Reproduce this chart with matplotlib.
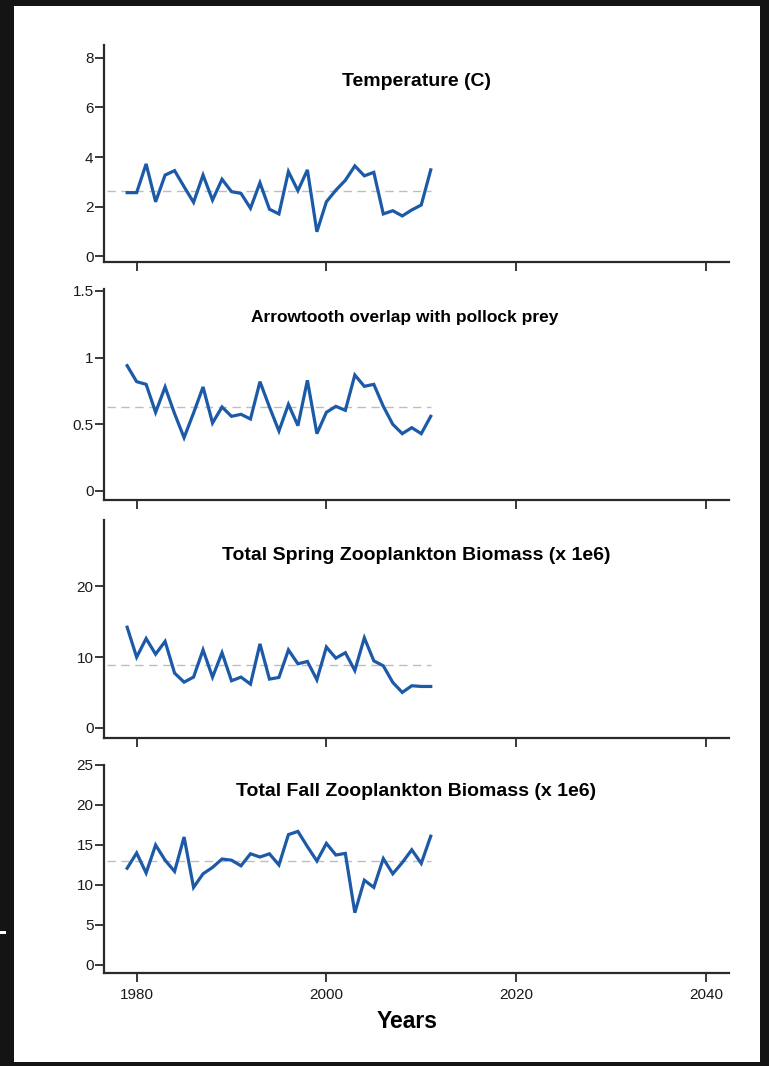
# ========================
# IMPORT LIBRARIES
# ========================
import numpy as np
import matplotlib
matplotlib.use("Agg")
import matplotlib.pyplot as plt
from matplotlib.patches import Rectangle


# ========================
# DATA
# ========================
years = np.arange(1979, 2012)

temperature = [2.56, 2.56, 3.72, 2.19, 3.27, 3.45, 2.80, 2.17, 3.27, 2.26,
               3.10, 2.60, 2.53, 1.93, 2.96, 1.89, 1.70, 3.41, 2.64, 3.48,
               0.98, 2.19, 2.66, 3.06, 3.64, 3.24, 3.38, 1.70, 1.83, 1.62,
               1.86, 2.06, 3.48]

overlap = [0.94, 0.82, 0.80, 0.59, 0.78, 0.58, 0.40, 0.585, 0.78, 0.51,
           0.63, 0.56, 0.575, 0.54, 0.82, 0.63, 0.45, 0.65, 0.49, 0.83,
           0.43, 0.59, 0.635, 0.605, 0.87, 0.785, 0.80, 0.635, 0.50, 0.43,
           0.475, 0.43, 0.56]

spring_zoop = [14.2, 9.98, 12.6, 10.4, 12.2, 7.73, 6.46, 7.17, 11.0, 7.17,
               10.6, 6.65, 7.17, 6.18, 11.85, 6.89, 7.12, 11.0, 9.04, 9.37,
               6.79, 11.4, 9.84, 10.6, 8.10, 12.7, 9.46, 8.76, 6.42, 5.01,
               5.95, 5.85, 5.85]

fall_zoop = [12.1, 14.0, 11.5, 15.0, 13.1, 11.7, 16.0, 9.7, 11.4, 12.2,
             13.25, 13.1, 12.4, 13.9, 13.5, 13.9, 12.5, 16.3, 16.7, 14.8,
             13.0, 15.2, 13.75, 13.95, 6.54, 10.6, 9.7, 13.3, 11.4, 12.8,
             14.4, 12.7, 16.1]

titles = ["Temperature (C)",
          "Arrowtooth overlap with pollock prey",
          "Total Spring Zooplankton Biomass (x 1e6)",
          "Total Fall Zooplankton Biomass (x 1e6)"]

series = [temperature, overlap, spring_zoop, fall_zoop]

yticks = [[0, 2, 4, 6, 8],
          [0, 0.5, 1, 1.5],
          [0, 10, 20],
          [0, 5, 10, 15, 20, 25]]
yticklabels = [["0", "2", "4", "6", "8"],
               ["0", "0.5", "1", "1.5"],
               ["0", "10", "20"],
               ["0", "5", "10", "15", "20", "25"]]

xticks = [1980, 2000, 2020, 2040]


# ========================
# LAYOUT (pixels, from top)
# ========================
W, H = 769, 1066
LEFT, RIGHT = 104, 729
panel_px = [(45, 262), (289, 500), (520, 738), (765, 973)]
ylims = [(-0.242, 8.525), (-0.0675, 1.515), (-1.41, 29.3), (-1.0, 25.0)]
title_pos = [(417, 86, 14), (405, 322.5, 12.5), (416, 560, 14), (416, 796.5, 14)]

LINE_BLUE = "#1c5aa8"
AXIS_COL = "#2a2a2a"

plt.rcParams["font.family"] = ["Liberation Sans", "DejaVu Sans"]

fig = plt.figure(figsize=(W / 100, H / 100), dpi=100)
fig.patch.set_facecolor("#141414")
fig.patches.append(Rectangle((14 / W, 1 - 1062 / H), (760 - 14) / W, (1062 - 6) / H,
                             transform=fig.transFigure, facecolor="white",
                             edgecolor="none", zorder=-10))
fig.patches.append(Rectangle((0, 1 - 934 / H), 6 / W, 3 / H,
                             transform=fig.transFigure, facecolor="white",
                             edgecolor="none", zorder=-10))


# ========================
# PANELS
# ========================
for i, (vals, (top, bot)) in enumerate(zip(series, panel_px)):
    ax = fig.add_axes([LEFT / W, 1 - bot / H, (RIGHT - LEFT) / W, (bot - top) / H])
    ax.set_facecolor("none")
    ax.set_zorder(1)

    ax.set_xlim(1976.56, 2042.44)
    ax.set_ylim(*ylims[i])

    mean_val = np.mean(vals)
    ax.hlines(mean_val, 1976.9, years[-1], colors="#bdbdbd", linewidth=1.0,
              linestyles=(0, (6, 4)), zorder=1)
    ax.plot(years, vals, color=LINE_BLUE, linewidth=2.3, zorder=2,
            solid_joinstyle="miter")

    for s in ["top", "right"]:
        ax.spines[s].set_visible(False)
    for s in ["left", "bottom"]:
        ax.spines[s].set_color(AXIS_COL)
        ax.spines[s].set_linewidth(1.6)

    ax.set_yticks(yticks[i])
    ax.set_yticklabels(yticklabels[i])
    ax.set_xticks(xticks)
    ax.tick_params(axis="both", direction="out", length=6.5, width=1.3,
                   color=AXIS_COL, labelsize=11, labelcolor="#1a1a1a")
    ax.tick_params(axis="y", pad=1)
    ax.tick_params(axis="x", pad=4)
    if i < 3:
        ax.set_xticklabels([])

    tx, ty, fs = title_pos[i]
    fig.text(tx / W, 1 - ty / H, titles[i], ha="center", va="baseline",
             fontsize=fs, fontweight="bold", color="black")

fig.text(407 / W, 1 - 1028 / H, "Years", ha="center", va="baseline",
         fontsize=16.5, fontweight="bold", color="black")

plt.savefig("out.png", dpi=100, facecolor=fig.get_facecolor())
